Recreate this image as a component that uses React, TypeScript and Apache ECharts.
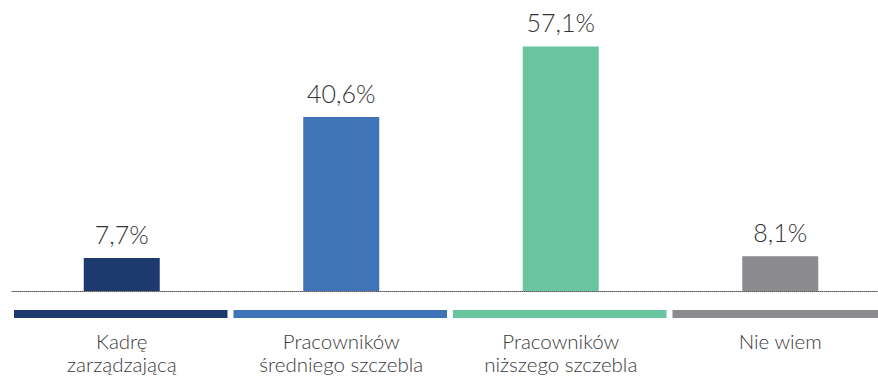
import React, { useEffect, useRef } from "react";
import * as echarts from "echarts";

const categories = ["Kadrę\nzarządzającą", "Pracowników\nśredniego szczebla", "Pracowników\nniższego szczebla", "Nie wiem"];
const values = [7.7, 40.6, 57.1, 8.1];
const colors = ["#1c3a6e", "#3f74b9", "#69c59d", "#8b8b8f"];

export default function App() {
  const ref = useRef<HTMLDivElement>(null);
  useEffect(() => {
    const chart = echarts.init(ref.current!, null, { renderer: "svg" });
    const font = "Lato, 'Noto Sans', sans-serif";
    chart.setOption({
      animation: false,
      grid: { left: 12, width: 878, top: 34, height: 257, containLabel: false },
      xAxis: {
        type: "category",
        data: categories,
        axisLine: { show: true, lineStyle: { type: "dotted", color: "#555", width: 1 } },
        axisTick: { show: false },
        axisLabel: {
          margin: 38,
          fontSize: 20.5,
          lineHeight: 23,
          color: "#3a3a3a",
          fontFamily: font,
          fontWeight: 300,
          interval: 0,
        },
      },
      yAxis: { type: "value", min: 0, max: 60, show: false, splitLine: { show: false } },
      series: [
        {
          type: "bar",
          barWidth: 76,
          data: values.map((v, i) => ({ value: v, itemStyle: { color: colors[i] } })),
          label: {
            show: true,
            position: "top",
            distance: 12,
            fontSize: 25,
            color: "#333",
            fontFamily: font,
            fontWeight: 300,
            formatter: (p: any) => String(p.value).replace(".", ",") + "%",
          },
        },
        {
          type: "custom",
          clip: false,
          silent: true,
          data: categories.map((_, i) => [i, 0]),
          renderItem: (params: any, api: any) => {
            const idx = api.value(0);
            const pt = api.coord([idx, 0]);
            const band = api.size([1, 0])[0];
            const x0 = pt[0] - band / 2 + 2;
            const x1 = pt[0] + band / 2 - 4;
            return {
              type: "rect",
              shape: { x: x0, y: pt[1] + 19, width: x1 - x0, height: 8 },
              style: { fill: colors[idx] },
            };
          },
        },
      ],
    });
    return () => chart.dispose();
  }, []);
  return (
    <div style={{ position: "absolute", left: 0, top: 0, width: 878, height: 376, overflow: "hidden" }}>
      <div ref={ref} style={{ width: 892, height: 376 }} />
    </div>
  );
}
